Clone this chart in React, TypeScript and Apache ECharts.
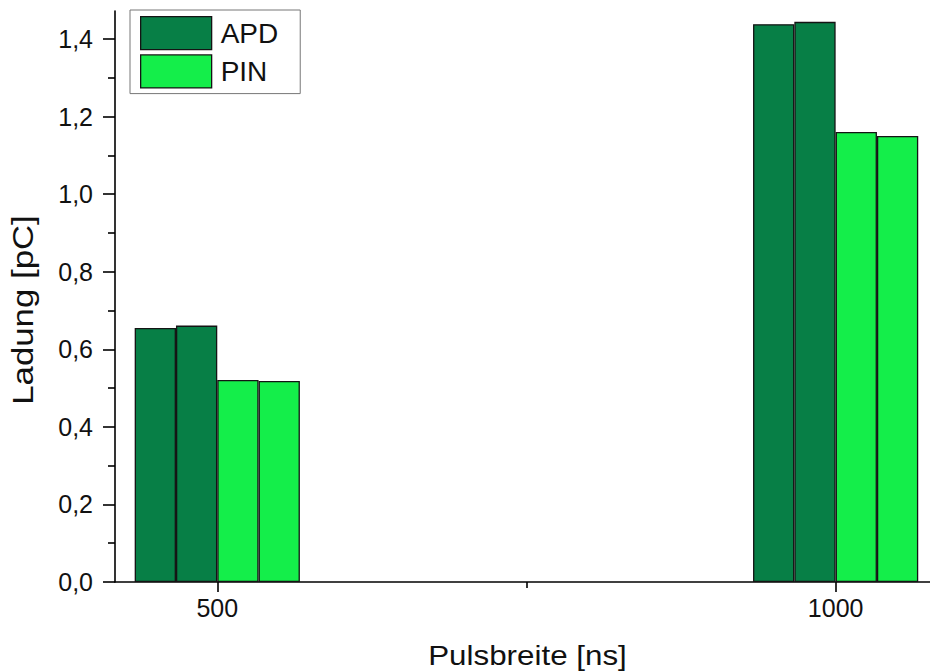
import React, { useEffect, useRef } from "react";
import * as echarts from "echarts";

// Pulse widths (ns) at which the charge was measured
const pulseWidths = [500, 1000];
// Collected charge (pC), two runs per detector
const apdRun1 = [0.655, 1.438];
const apdRun2 = [0.661, 1.444];
const pinRun1 = [0.521, 1.16];
const pinRun2 = [0.518, 1.15];

const yMajorTicks = [0, 0.2, 0.4, 0.6, 0.8, 1.0, 1.2, 1.4];
const yMinorTicks = [0.1, 0.3, 0.5, 0.7, 0.9, 1.1, 1.3];
const xMajorTicks = [500, 1000];
const xMinorTicks = [750];

const xTitle = "Pulsbreite [ns]";
const yTitle = "Ladung [pC]";

const APD_COLOR = "#077f46";
const PIN_COLOR = "#14ee4a";
const FONT = "'Liberation Sans', Arial, sans-serif";

const X_MIN = 417.3;
const X_MAX = 1076.3;
const Y_MIN = 0;
const Y_MAX = 1.472;

const comma = (v: number) => v.toFixed(1).replace(".", ",");

export default function App() {
  const ref = useRef<HTMLDivElement>(null);

  useEffect(() => {
    if (!ref.current) return;
    const chart = echarts.init(ref.current, undefined, { renderer: "svg" });

    const barSeries = (name: string, values: number[], color: string) => ({
      type: "bar",
      name,
      xAxisIndex: 0,
      yAxisIndex: 0,
      data: pulseWidths.map((x, i) => [x, values[i]]),
      barWidth: 41.3,
      barGap: "0%",
      itemStyle: { color, borderColor: "#141414", borderWidth: 1.3 },
    });

    const axisLine = { show: true, lineStyle: { color: "#000", width: 1.6 } };
    const tickLine = { color: "#000", width: 1.6 };

    chart.setOption({
      animation: false,
      backgroundColor: "#fff",
      grid: { left: 115, top: 11, right: 0, bottom: 90, containLabel: false },
      legend: {
        data: ["APD", "PIN"],
        orient: "vertical",
        left: 130,
        top: 10,
        icon: "rect",
        itemWidth: 71,
        itemHeight: 33,
        itemGap: 4,
        padding: [6, 22, 5, 10],
        borderColor: "#777",
        borderWidth: 1,
        backgroundColor: "#fff",
        selectedMode: false,
        itemStyle: { borderColor: "#141414", borderWidth: 1.3 },
        textStyle: { fontSize: 28, color: "#111", fontFamily: FONT, padding: [0, 0, 0, 4] },
      },
      graphic: [
        {
          type: "text",
          x: 527.5,
          y: 655,
          scaleX: 1.12,
          style: {
            text: xTitle,
            fontSize: 28,
            fontFamily: FONT,
            fill: "#111",
            textAlign: "center",
            textVerticalAlign: "middle",
          },
        },
        {
          type: "text",
          x: 23,
          y: 310,
          rotation: Math.PI / 2,
          scaleX: 1.2,
          style: {
            text: yTitle,
            fontSize: 29,
            fontFamily: FONT,
            fill: "#111",
            textAlign: "center",
            textVerticalAlign: "middle",
          },
        },
      ],
      xAxis: [
        {
          type: "value",
          min: X_MIN,
          max: X_MAX,
          position: "bottom",
          axisLine,
          splitLine: { show: false },
          axisTick: {
            show: true,
            length: 10,
            customValues: xMajorTicks,
            lineStyle: tickLine,
          },
          axisLabel: {
            customValues: xMajorTicks,
            formatter: (v: number) => String(Math.round(v)),
            margin: 13,
            fontSize: 25,
            color: "#111",
            fontFamily: FONT,
          },
        },
        {
          type: "value",
          min: X_MIN,
          max: X_MAX,
          position: "bottom",
          axisLine: { show: false },
          splitLine: { show: false },
          axisLabel: { show: false },
          axisTick: {
            show: true,
            length: 6,
            customValues: xMinorTicks,
            lineStyle: tickLine,
          },
        },
      ],
      yAxis: [
        {
          type: "value",
          min: Y_MIN,
          max: Y_MAX,
          position: "left",
          axisLine,
          splitLine: { show: false },
          axisTick: {
            show: true,
            length: 12,
            customValues: yMajorTicks,
            lineStyle: tickLine,
          },
          axisLabel: {
            customValues: yMajorTicks,
            formatter: (v: number) => comma(v),
            margin: 22,
            fontSize: 25,
            color: "#111",
            fontFamily: FONT,
          },
        },
        {
          type: "value",
          min: Y_MIN,
          max: Y_MAX,
          position: "left",
          axisLine: { show: false },
          splitLine: { show: false },
          axisLabel: { show: false },
          axisTick: {
            show: true,
            length: 7,
            customValues: yMinorTicks,
            lineStyle: tickLine,
          },
        },
      ],
      series: [
        barSeries("APD", apdRun1, APD_COLOR),
        barSeries("APD", apdRun2, APD_COLOR),
        barSeries("PIN", pinRun1, PIN_COLOR),
        barSeries("PIN", pinRun2, PIN_COLOR),
      ],
    });

    return () => chart.dispose();
  }, []);

  return (
    <div
      ref={ref}
      style={{ position: "fixed", left: 0, top: 0, width: 930, height: 672 }}
    />
  );
}
